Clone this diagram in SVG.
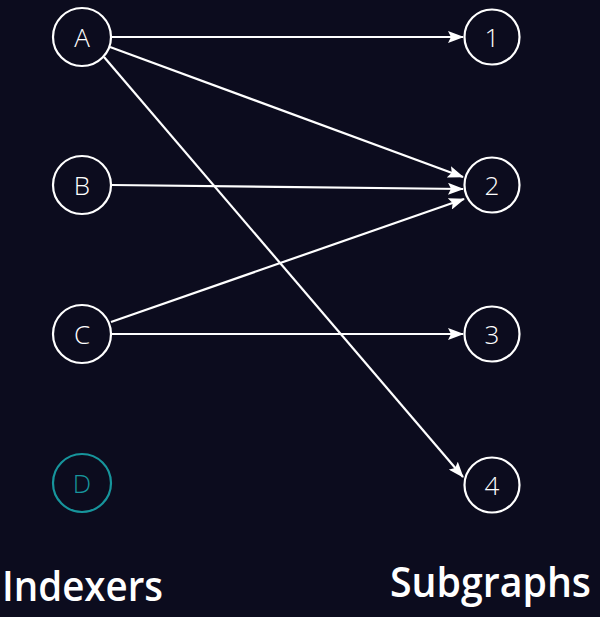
<svg xmlns="http://www.w3.org/2000/svg" width="600" height="617" viewBox="0 0 600 617">
<defs>
<style>
.node circle{fill:none;stroke:#ffffff;stroke-width:2.2}
.node text{fill:#ffffff;font-family:"Open Sans","Liberation Sans",sans-serif;font-size:26px;font-weight:300;text-anchor:middle;dominant-baseline:central}
.inactive circle{stroke:#17959c}
.inactive text{fill:#17959c}
.edges line{stroke:#ffffff;stroke-width:2.2;marker-end:url(#arr)}
.title{fill:#ffffff;font-family:"Open Sans","Liberation Sans",sans-serif;font-size:41px;font-weight:600}
</style>
<marker id="arr" viewBox="0 0 16 12" refX="15" refY="6" markerWidth="16" markerHeight="12" markerUnits="userSpaceOnUse" orient="auto">
<path d="M0,0 L16,6 L0,12 L3,6 z" fill="#ffffff"/>
</marker>
</defs>
<rect width="600" height="617" fill="#0c0c1e"/>
<g class="edges">
<line x1="112" y1="37" x2="463" y2="37"/>
<line x1="110" y1="47" x2="463" y2="177"/>
<line x1="104" y1="57" x2="463" y2="477"/>
<line x1="112" y1="185" x2="463" y2="189"/>
<line x1="111" y1="322" x2="464" y2="199"/>
<line x1="112" y1="334" x2="463" y2="334"/>
</g>
<g id="A" class="node"><circle cx="82" cy="37" r="29"/><text x="82" y="37">A</text></g>
<g id="B" class="node"><circle cx="82" cy="185" r="29"/><text x="82" y="185">B</text></g>
<g id="C" class="node"><circle cx="82" cy="334" r="29"/><text x="82" y="334">C</text></g>
<g id="D" class="node inactive"><circle cx="82" cy="483" r="29"/><text x="82" y="483">D</text></g>
<g id="n1" class="node"><circle cx="492" cy="37" r="27.5"/><text x="492" y="37">1</text></g>
<g id="n2" class="node"><circle cx="492" cy="185" r="27.5"/><text x="492" y="185">2</text></g>
<g id="n3" class="node"><circle cx="492" cy="334" r="27.5"/><text x="492" y="334">3</text></g>
<g id="n4" class="node"><circle cx="492" cy="485" r="27.5"/><text x="492" y="485">4</text></g>
<text class="title" x="2" y="601" textLength="161" lengthAdjust="spacingAndGlyphs">Indexers</text>
<text class="title" x="390" y="597" textLength="201" lengthAdjust="spacingAndGlyphs">Subgraphs</text>
</svg>
